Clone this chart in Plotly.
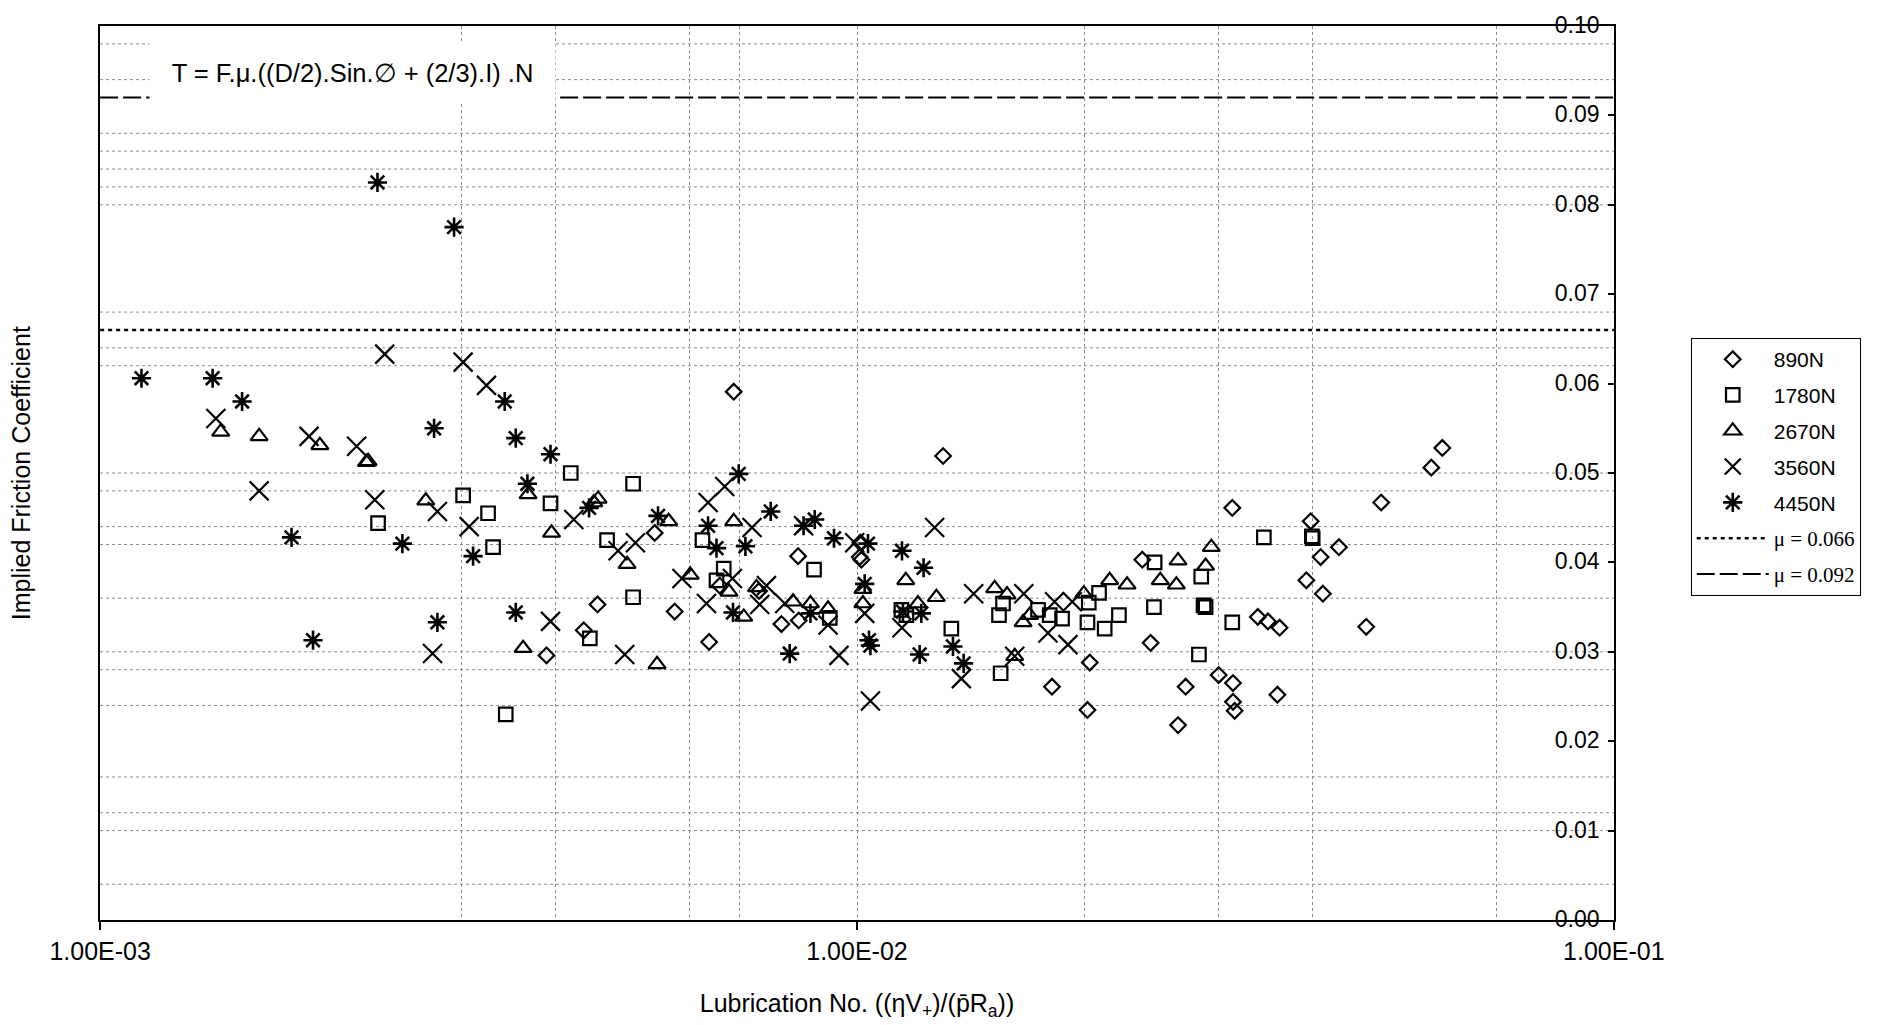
import plotly.graph_objects as go

# ---------------- data ----------------
x_890 = [4.541e-3, 3.888e-3, 4.355e-3, 5.404e-3, 5.743e-3, 6.873e-3, 6.587e-3, 6.377e-3,
         7.423e-3, 8.36e-3, 7.946e-3, 8.376e-3, 1.0104e-2, 1.0083e-2, 1.0134e-2,
         1.2994e-2, 1.8097e-2, 2.0303e-2, 2.016e-2, 2.382e-2, 2.443e-2, 2.718e-2, 2.6555e-2,
         3.132e-2, 3.385e-2, 3.491e-2, 3.617e-2, 3.005e-2, 3.139e-2, 3.139e-2, 3.155e-2, 3.593e-2,
         5.934e-2, 5.739e-2, 4.927e-2, 3.976e-2, 4.333e-2, 4.098e-2, 3.924e-2, 4.126e-2, 4.708e-2]
y_890 = [0.0353, 0.0296, 0.0324, 0.0433, 0.0345, 0.0591, 0.0374, 0.0311,
         0.0368, 0.0407, 0.0331, 0.0335, 0.0422, 0.0406, 0.0403,
         0.0519, 0.0261, 0.0288, 0.0235, 0.0403, 0.0310, 0.0261, 0.0218,
         0.0461, 0.0339, 0.0334, 0.0327, 0.0274, 0.0265, 0.0244, 0.0234, 0.0252,
         0.0528, 0.0506, 0.0467, 0.0446, 0.0417, 0.0406, 0.0380, 0.0365, 0.0328]

x_1780 = [2.329e-3, 3.017e-3, 3.255e-3, 3.305e-3, 3.435e-3,
          4.186e-3, 5.06e-3, 3.936e-3, 4.675e-3, 5.06e-3, 4.436e-3, 6.249e-3, 6.667e-3, 6.522e-3,
          8.774e-3, 9.205e-3,
          1.1446e-2, 1.1622e-2, 1.3325e-2, 1.5593e-2, 1.5404e-2, 1.7346e-2, 1.7972e-2, 1.866e-2,
          1.548e-2, 2.0241e-2, 2.0884e-2, 2.016e-2, 2.1245e-2, 2.2187e-2, 2.473e-2, 2.468e-2,
          2.85e-2, 2.87e-2, 2.888e-2, 2.83e-2, 3.448e-2, 3.132e-2, 3.99e-2, 4.0e-2]
y_1780 = [0.0444, 0.0475, 0.0455, 0.0417, 0.0230,
          0.0500, 0.0488, 0.0466, 0.0425, 0.0361, 0.0315, 0.0425, 0.0393, 0.0380,
          0.0392, 0.0338,
          0.0347, 0.0341, 0.0326, 0.0354, 0.0341, 0.0347, 0.0341, 0.0337,
          0.0276, 0.0355, 0.0366, 0.0333, 0.0326, 0.0341, 0.0400, 0.0350,
          0.0384, 0.0352, 0.0350, 0.0297, 0.0428, 0.0333, 0.0429, 0.0427]

x_2670 = [1.443e-3, 1.622e-3, 1.951e-3, 2.248e-3, 2.26e-3, 2.693e-3, 3.676e-3, 3.621e-3,
          3.948e-3, 4.549e-3, 4.49e-3, 4.968e-3, 5.639e-3, 5.442e-3, 6.02e-3, 6.873e-3,
          6.775e-3, 7.085e-3, 7.364e-3, 8.232e-3, 8.679e-3, 9.157e-3, 1.018e-2, 1.018e-2,
          1.16e-2, 1.2037e-2, 1.2731e-2, 1.5202e-2, 1.5785e-2, 1.691e-2, 1.6575e-2, 1.6158e-2,
          1.9935e-2, 2.157e-2, 2.274e-2, 2.6555e-2, 2.516e-2, 2.6423e-2, 2.9385e-2, 2.888e-2]
y_2670 = [0.0546, 0.0541, 0.0531, 0.0512, 0.0513, 0.0469, 0.0476, 0.0304,
          0.0433, 0.0471, 0.0467, 0.0398, 0.0446, 0.0286, 0.0386, 0.0446,
          0.0367, 0.0339, 0.0372, 0.0356, 0.0354, 0.0348, 0.0370, 0.0354,
          0.0380, 0.0354, 0.0361, 0.0371, 0.0364, 0.0341, 0.0333, 0.0295,
          0.0365, 0.0380, 0.0375, 0.0402, 0.0380, 0.0375, 0.0417, 0.0396]

x_3560 = [1.422e-3, 1.888e-3, 2.182e-3, 2.377e-3, 3.017e-3, 3.239e-3, 1.622e-3, 2.306e-3,
          2.79e-3, 3.073e-3, 2.749e-3,
          4.225e-3, 4.834e-3, 5.096e-3, 3.936e-3, 4.933e-3, 5.871e-3, 6.357e-3, 6.687e-3,
          7.266e-3, 6.845e-3, 6.326e-3, 7.592e-3, 7.438e-3, 8.5e-3, 9.93e-3, 1.0237e-2,
          1.0417e-2, 8.027e-3, 9.157e-3, 9.467e-3,
          1.2664e-2, 1.1467e-2, 1.3736e-2, 1.4262e-2, 1.661e-2, 1.824e-2, 1.925e-2, 1.788e-2,
          1.9e-2, 1.6158e-2]
y_3560 = [0.0561, 0.0541, 0.0530, 0.0633, 0.0624, 0.0598, 0.0480, 0.0470,
          0.0457, 0.0440, 0.0298,
          0.0448, 0.0413, 0.0422, 0.0334, 0.0297, 0.0382, 0.0467, 0.0485,
          0.0439, 0.0382, 0.0354, 0.0374, 0.0353, 0.0441, 0.0422, 0.0343,
          0.0245, 0.0354, 0.0330, 0.0296,
          0.0439, 0.0327, 0.0270, 0.0365, 0.0365, 0.0356, 0.0356, 0.0321,
          0.0308, 0.0295]

x_4450 = [1.134e-3, 1.408e-3, 1.54e-3, 3.424e-3, 2.762e-3, 3.541e-3, 3.11e-3, 3.669e-3,
          1.79e-3, 2.508e-3, 2.79e-3, 1.911e-3, 3.541e-3, 2.325e-3, 2.935e-3,
          3.936e-3, 4.426e-3, 5.459e-3, 6.978e-3, 6.357e-3, 6.522e-3, 7.121e-3, 7.691e-3,
          6.858e-3, 8.5e-3, 8.793e-3, 9.324e-3, 1.034e-2, 1.0237e-2, 1.0371e-2, 1.0417e-2,
          8.679e-3, 8.149e-3,
          1.1467e-2, 1.2245e-2, 1.15e-2, 1.2162e-2, 1.2099e-2, 1.339e-2, 1.3832e-2]
y_4450 = [0.0606, 0.0606, 0.0580, 0.0580, 0.0550, 0.0539, 0.0407, 0.0488,
          0.0428, 0.0421, 0.0333, 0.0313, 0.0344, 0.0825, 0.0775,
          0.0521, 0.0461, 0.0452, 0.0499, 0.0441, 0.0416, 0.0418, 0.0457,
          0.0344, 0.0441, 0.0448, 0.0427, 0.0421, 0.0376, 0.0313, 0.0307,
          0.0343, 0.0298,
          0.0413, 0.0394, 0.0345, 0.0343, 0.0297, 0.0306, 0.0287]

series_names = ["890N", "1780N", "2670N", "3560N", "4450N"]
series_x = [x_890, x_1780, x_2670, x_3560, x_4450]
series_y = [y_890, y_1780, y_2670, y_3560, y_4450]

mu_values = [0.066, 0.092]
mu_names = ["μ = 0.066", "μ = 0.092"]
mu_x_span = [1e-3, 1e-1]

x_tick_vals = [1e-3, 1e-2, 1e-1]
x_tick_text = ["1.00E-03", "1.00E-02", "1.00E-01"]
y_tick_vals = [0.00, 0.01, 0.02, 0.03, 0.04, 0.05, 0.06, 0.07, 0.08, 0.09, 0.10]

formula_text = "T = F.\u03bc.((D/2).Sin.\u2205 + (2/3).I) .N"
x_title = "Lubrication No. ((\u03b7V<sub>+</sub>)/(p\u0304R<sub>a</sub>))"
y_title = "Implied Friction Coefficient"

# ---------------- styling ----------------
FONT = "Liberation Sans, Arial, sans-serif"
GRID_COLOR = "#8c8c8c"
# gridlines visible in the scanned original
GRID_Y = [0.004, 0.010, 0.012, 0.016, 0.024, 0.028, 0.030, 0.036, 0.042, 0.044, 0.048, 0.050,
          0.062, 0.064, 0.068, 0.080, 0.082, 0.084, 0.086, 0.088, 0.094, 0.098]
GRID_X_MINOR = [3e-3, 4e-3, 6e-3, 7e-3, 2e-2, 3e-2, 4e-2, 7e-2]

symbols = ["diamond-open", "square-open", "triangle-up-open", "x-thin-open", "asterisk-open"]
sizes = [12, 13.5, 15, 19, 16]
widths = [2.2, 2.2, 2.2, 2.2, 2.6]

fig = go.Figure()

for name, xs, ys, sym, sz, lw in zip(series_names, series_x, series_y, symbols, sizes, widths):
    fig.add_trace(go.Scatter(
        x=xs, y=ys, mode="markers", name=name, legendgroup=name,
        marker=dict(symbol=sym, size=sz, color="black",
                    line=dict(color="black", width=lw)),
    ))

mu_dashes = ["4px,4px", "18px,5px"]
mu_widths = [2.5, 2]
for val, nm, dsh, w in zip(mu_values, mu_names, mu_dashes, mu_widths):
    fig.add_trace(go.Scatter(
        x=mu_x_span, y=[val, val], mode="lines", legendgroup=nm,
        name='<span style="font-family:Liberation Serif">' + nm + '</span>',
        line=dict(color="black", width=w, dash=dsh),
    ))

shapes = []
for gy in GRID_Y:
    shapes.append(dict(type="line", xref="paper", x0=0, x1=1, yref="y", y0=gy, y1=gy,
                       line=dict(color=GRID_COLOR, width=1, dash="dot"), layer="below"))

fig.update_layout(
    width=1877, height=1025,
    margin=dict(l=100, r=263, t=23, b=102),
    paper_bgcolor="white", plot_bgcolor="white",
    font=dict(family=FONT, size=23, color="black"),
    shapes=shapes,
    showlegend=True,
    legend=dict(
        x=1.0507, xanchor="left", y=0.651, yanchor="top",
        bgcolor="white", bordercolor="black", borderwidth=1,
        font=dict(family=FONT, size=21, color="black"),
        traceorder="grouped", tracegroupgap=5.5, itemwidth=72,
    ),
    annotations=[
        dict(text=formula_text, xref="paper", yref="paper", x=0.1666, y=0.9470,
             xanchor="center", yanchor="middle", showarrow=False,
             font=dict(family=FONT, size=25.5, color="black"),
             bgcolor="white", width=405, height=60, borderpad=0, align="center"),
        dict(text=y_title, xref="paper", yref="paper", x=-0.052, y=0.5,
             xanchor="center", yanchor="middle", showarrow=False, textangle=-90,
             font=dict(family=FONT, size=25, color="black")),
    ],
)

fig.update_xaxes(
    type="log", range=[-3.0002, -0.9998],
    tickmode="array", tickvals=x_tick_vals, ticktext=x_tick_text,
    ticks="outside", ticklen=8, tickwidth=1.5, tickcolor="black",
    ticklabeloverflow="allow",
    tickfont=dict(family=FONT, size=25, color="black"),
    showline=True, mirror=True, linecolor="black", linewidth=2,
    showgrid=True, gridcolor=GRID_COLOR, griddash="dot", gridwidth=1,
    minor=dict(tickmode="array", tickvals=GRID_X_MINOR, showgrid=True,
               gridcolor=GRID_COLOR, griddash="dot", gridwidth=1, ticks=""),
    title=dict(text=x_title, font=dict(family=FONT, size=25, color="black"), standoff=30),
    zeroline=False,
)

fig.update_yaxes(
    range=[0, 0.1], side="right",
    tickmode="array", tickvals=y_tick_vals, tickformat=".2f",
    ticks="inside", ticklen=6, tickwidth=1.5, tickcolor="black",
    ticklabelposition="inside", ticklabeloverflow="allow",
    ticklabelshift=-1, ticklabelstandoff=10,
    tickfont=dict(family=FONT, size=23, color="black"),
    showline=True, mirror=True, linecolor="black", linewidth=2,
    showgrid=False, zeroline=False,
)

fig.write_html("out.html")
